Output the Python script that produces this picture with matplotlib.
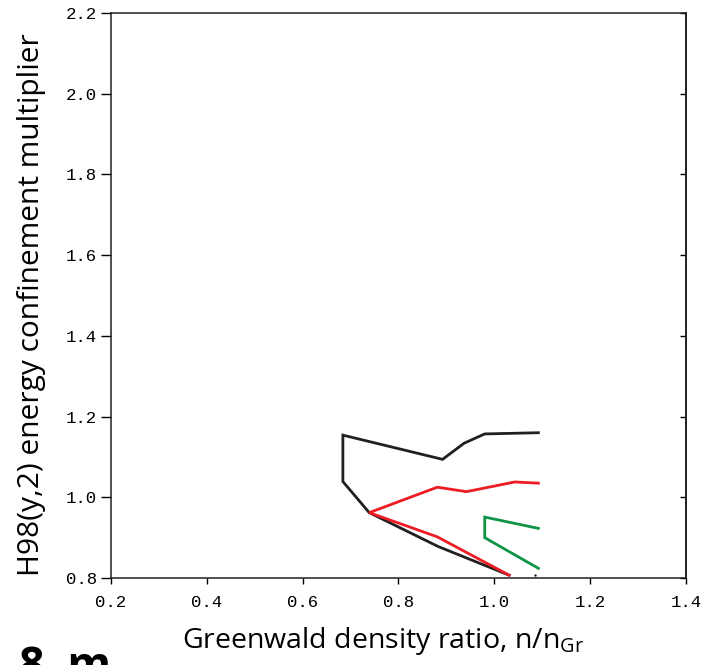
import matplotlib
matplotlib.use('Agg')
import matplotlib.pyplot as plt

black_x = [1.092, 0.980, 0.937, 0.892, 0.684, 0.684, 0.739, 0.883, 1.031]
black_y = [1.160, 1.157, 1.134, 1.094, 1.154, 1.039, 0.962, 0.878, 0.807]

red_x = [1.092, 1.043, 0.942, 0.881, 0.739, 0.881, 1.031]
red_y = [1.035, 1.038, 1.014, 1.025, 0.962, 0.902, 0.807]

green_x = [1.092, 0.980, 0.980, 1.092]
green_y = [0.923, 0.951, 0.900, 0.824]

xticks = [0.2, 0.4, 0.6, 0.8, 1.0, 1.2, 1.4]
yticks = [0.8, 1.0, 1.2, 1.4, 1.6, 1.8, 2.0, 2.2]

label_font = 'Open Sans'
tick_font = 'Liberation Mono'

fig = plt.figure(figsize=(7.15, 6.65), dpi=100)
ax = fig.add_axes([0.1552, 0.1308, 0.8042, 0.8497])

ax.plot(black_x, black_y, color='#231f20', lw=2.0, solid_joinstyle='miter')
ax.plot(red_x, red_y, color='#ed1c24', lw=2.0, solid_joinstyle='miter')
ax.plot(green_x, green_y, color='#0f9447', lw=2.0, solid_joinstyle='miter')
ax.plot([1.085], [0.807], marker='.', color='#231f20', ms=1.5)

ax.set_xlim(0.2, 1.4)
ax.set_ylim(0.8, 2.2)
ax.set_xticks(xticks)
ax.set_yticks(yticks)
ax.set_xticklabels(['%.1f' % v for v in xticks], family=tick_font, fontsize=12.5)
ax.set_yticklabels(['%.1f' % v for v in yticks], family=tick_font, fontsize=12.5)
ax.tick_params(axis='x', direction='out', length=4.5, width=1.0, pad=8, top=False)
ax.tick_params(axis='y', direction='out', length=7, width=1.0, pad=3, right=False)
for s in ax.spines.values():
    s.set_linewidth(1.1)
    s.set_color('#231f20')

# inward ticks on right spine
sec = ax.secondary_yaxis('right')
sec.set_yticks(yticks)
sec.set_yticklabels([])
sec.tick_params(direction='in', length=4.5, width=1.0)
sec.spines['right'].set_linewidth(1.1)

ax.set_ylabel('H98(y,2) energy confinement multiplier', family=label_font,
              fontsize=21.5)
ax.yaxis.set_label_coords(-0.113, 0.483)
ax.set_xlabel('Greenwald density ratio, n/n$_{\\mathregular{Gr}}$', family=label_font,
              fontsize=20.5)
ax.xaxis.set_label_coords(0.473, -0.083)

# panel label, cut by the bottom edge as in the source figure
fig.text(0.026, -0.021, '8  m', family=label_font, fontsize=32, fontweight='bold',
         va='baseline')

fig.savefig('out.png', dpi=100)
